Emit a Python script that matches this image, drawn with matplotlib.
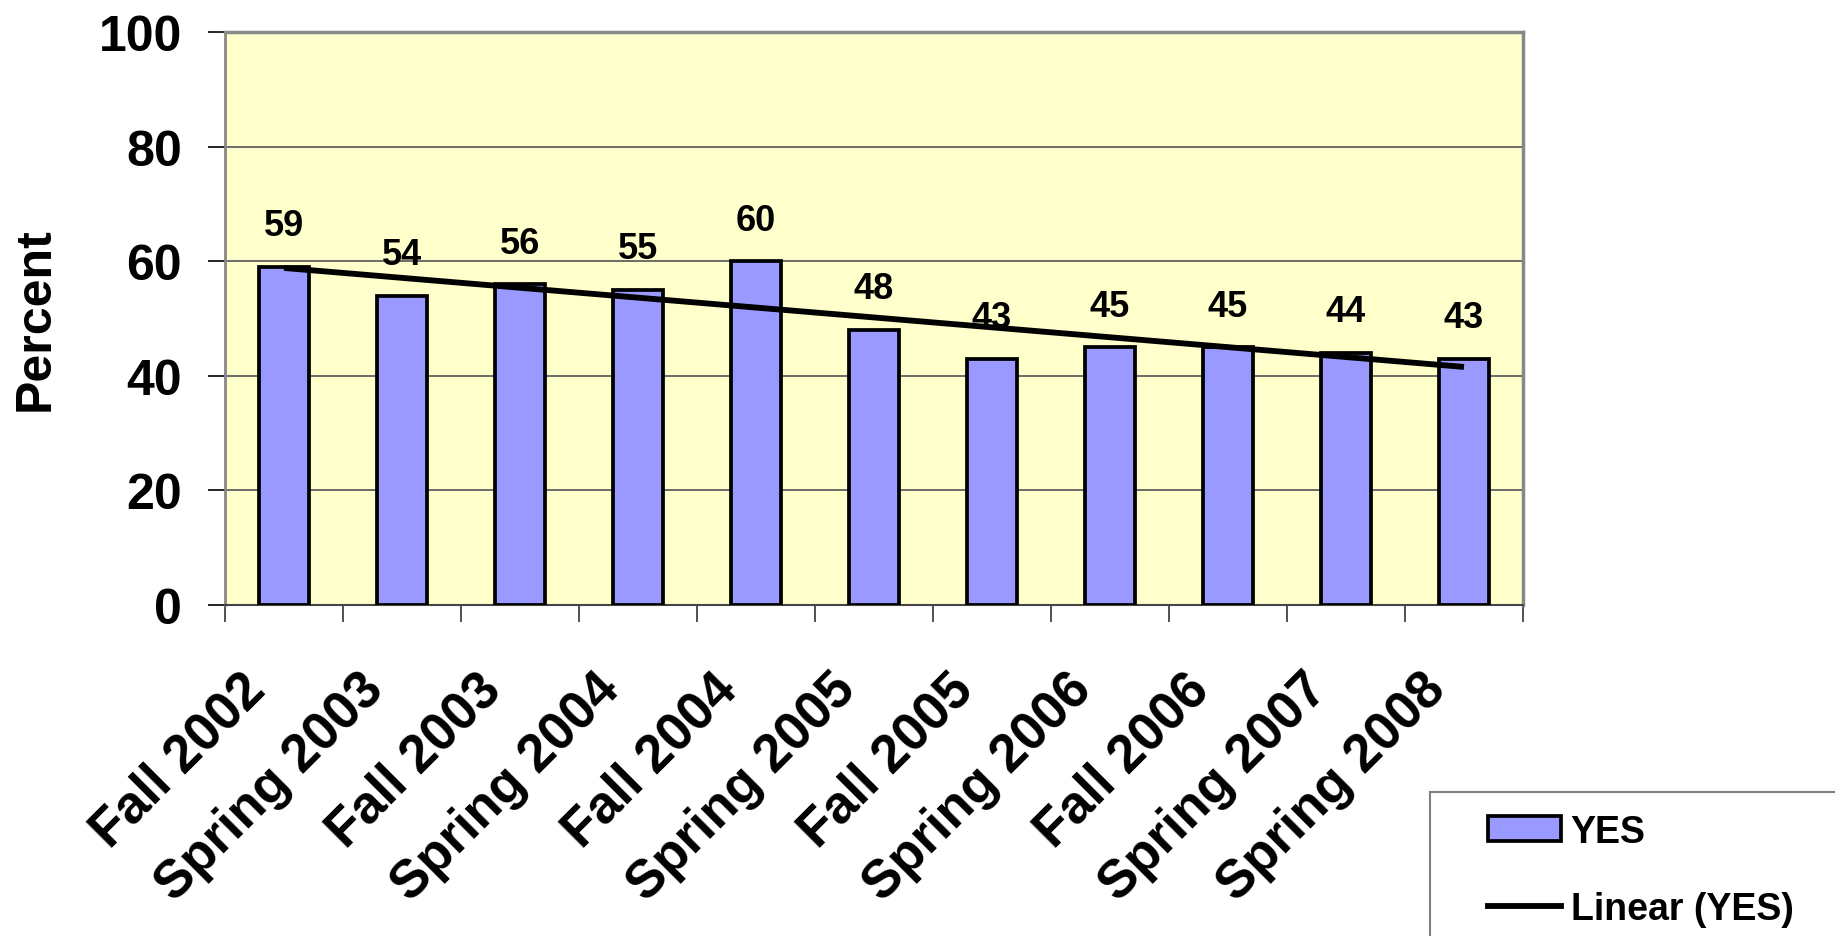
import numpy as np
import matplotlib
matplotlib.use("Agg")
import matplotlib.pyplot as plt
from matplotlib.transforms import ScaledTranslation
from matplotlib.patches import Rectangle, Patch
from matplotlib.lines import Line2D

# Survey terms and share answering YES (%)
terms = ["Fall 2002", "Spring 2003", "Fall 2003", "Spring 2004", "Fall 2004",
         "Spring 2005", "Fall 2005", "Spring 2006", "Fall 2006", "Spring 2007",
         "Spring 2008"]
yes_pct = [59, 54, 56, 55, 60, 48, 43, 45, 45, 44, 43]
y_ticks = [0, 20, 40, 60, 80, 100]

plt.rcParams["font.family"] = ["Liberation Sans", "DejaVu Sans"]
plt.rcParams["font.weight"] = "bold"

W, H, DPI = 1835, 937, 100
fig = plt.figure(figsize=(W / DPI, H / DPI), dpi=DPI)
ax = fig.add_axes([225 / W, 1 - 606 / H, (1523 - 225) / W, (606 - 33) / H])
ax.set_facecolor("#FFFFCC")

x = np.arange(len(terms))
ax.bar(x, yes_pct, width=0.42, color="#9999FF", edgecolor="black",
       linewidth=2.7, zorder=3)

# Least-squares trend of the YES series
slope, intercept = np.polyfit(x, yes_pct, 1)
ax.plot(x, slope * x + intercept, color="black", linewidth=4.2, zorder=4,
        solid_capstyle="butt")

for xi, v in zip(x, yes_pct):
    ax.annotate(f"{v}", (xi, v), xytext=(0, 29.5), textcoords="offset points",
                ha="center", va="center", fontsize=26, fontweight="bold",
                zorder=5)

ax.set_xlim(-0.5, len(terms) - 0.5)
ax.set_ylim(0, 100)
ax.set_yticks(y_ticks)
ax.set_yticklabels([str(t) for t in y_ticks], fontsize=36, fontweight="bold")
ax.tick_params(axis="y", direction="out", length=12, width=1.2, pad=19,
               color="black")
ax.yaxis.grid(True, color="#606060", linewidth=1.3, zorder=1)
ax.set_axisbelow(True)

# Category boundaries carry the tick marks; labels sit at the bar centres
ax.set_xticks(np.arange(-0.5, len(terms), 1.0))
ax.set_xticklabels([])
ax.set_xticks(x, minor=True)
ax.set_xticklabels(terms, minor=True, rotation=45, ha="right", va="top",
                   fontsize=38, fontweight="bold")
ax.tick_params(axis="x", which="major", direction="out", length=12, width=1.2,
               color="#333333")
ax.tick_params(axis="x", which="minor", length=0, pad=42)
for lab in ax.get_xticklabels(minor=True):
    lab.set_transform(lab.get_transform() +
                      ScaledTranslation(-9 / DPI, 0, fig.dpi_scale_trans))

for side in ("top", "right", "left"):
    ax.spines[side].set_color("#888888")
ax.spines["top"].set_linewidth(2.5)
ax.spines["right"].set_linewidth(2.5)
ax.spines["left"].set_linewidth(2.0)
ax.spines["bottom"].set_color("#444444")
ax.spines["bottom"].set_linewidth(1.5)

fig.text(36 / W, 1 - 319 / H, "Percent", rotation=90, ha="center",
         va="center", fontsize=36, fontweight="bold")

# Legend box running off the lower-right corner
fig.patches.append(Rectangle((1430 / W, -0.05), 1, 1 - 793 / H + 0.05,
                             transform=fig.transFigure, facecolor="white",
                             edgecolor="#808080", linewidth=1.5))
handles = [Patch(facecolor="#9999FF", edgecolor="black", linewidth=2.7),
           Line2D([0], [0], color="black", linewidth=4.2)]
fig.legend(handles, ["YES", "Linear (YES)"], loc="upper left",
           bbox_to_anchor=(1488 / W, 1 - 815 / H), frameon=False,
           prop={"weight": "bold", "size": 27},
           handlelength=1.95, handleheight=0.64, handletextpad=0.25,
           labelspacing=1.1, borderaxespad=0, borderpad=0)

fig.savefig("out.png", dpi=DPI)
